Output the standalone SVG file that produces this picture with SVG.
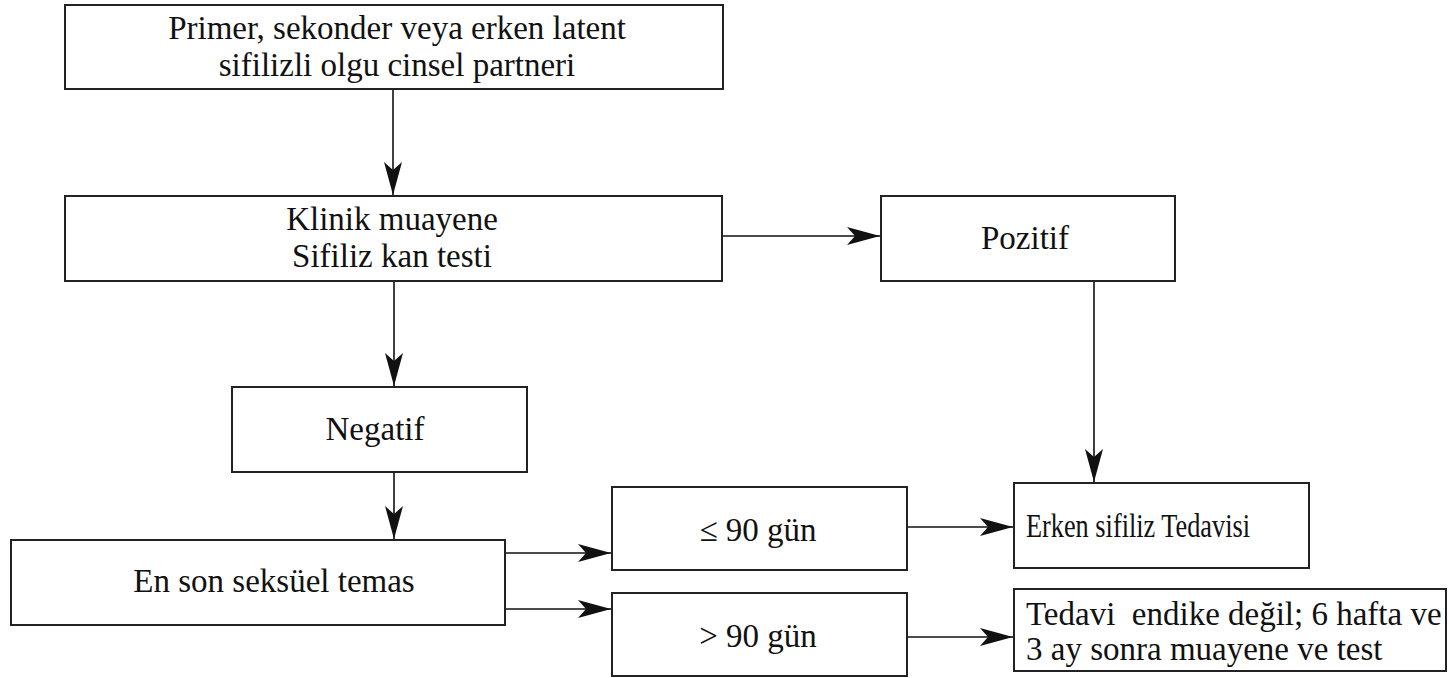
<svg xmlns="http://www.w3.org/2000/svg" width="1449" height="678" viewBox="0 0 1449 678">
<style>
.box{fill:#fff;stroke:#222;stroke-width:2}
.t{font-family:"Liberation Serif","Times New Roman",serif;font-size:33px;fill:#111}
.c{text-anchor:middle}
.conn{stroke:#111;stroke-width:1.6;fill:none;marker-end:url(#ah)}
</style>
<defs>
<marker id="ah" markerUnits="userSpaceOnUse" viewBox="-34 -10 34 20" markerWidth="34" markerHeight="20" refX="0" refY="0" orient="auto">
<path d="M0,0 L-33,-9 L-25,0 L-33,9 Z" fill="#111"/>
</marker>
</defs>
<rect width="1449" height="678" fill="#fff"/>
<g id="connectors">
<line class="conn" x1="393" y1="89" x2="393" y2="195"/>
<line class="conn" x1="722" y1="236" x2="880" y2="236"/>
<line class="conn" x1="1094" y1="281" x2="1094" y2="482"/>
<line class="conn" x1="394" y1="281" x2="394" y2="386"/>
<line class="conn" x1="394" y1="472" x2="394" y2="539"/>
<line class="conn" x1="505" y1="553" x2="611" y2="553"/>
<line class="conn" x1="505" y1="609" x2="611" y2="609"/>
<line class="conn" x1="907" y1="527" x2="1013" y2="527"/>
<line class="conn" x1="907" y1="637" x2="1013" y2="637"/>
</g>
<g id="n1">
<rect class="box" x="65" y="5" width="658" height="84"/>
<text class="t c" x="397" y="39">Primer, sekonder veya erken latent</text>
<text class="t c" x="397" y="76">sifilizli olgu cinsel partneri</text>
</g>
<g id="n2">
<rect class="box" x="65" y="196" width="657" height="85"/>
<text class="t c" x="392" y="230">Klinik muayene</text>
<text class="t c" x="392" y="267">Sifiliz kan testi</text>
</g>
<g id="n3">
<rect class="box" x="881" y="196" width="294" height="85"/>
<text class="t c" x="1025" y="249">Pozitif</text>
</g>
<g id="n4">
<rect class="box" x="232" y="387" width="295" height="85"/>
<text class="t c" x="375" y="440">Negatif</text>
</g>
<g id="n5">
<rect class="box" x="11" y="540" width="494" height="85"/>
<text class="t c" x="274" y="592">En son seksüel temas</text>
</g>
<g id="n6">
<rect class="box" x="612" y="487" width="295" height="83"/>
<text class="t c" x="758" y="541">≤ 90 gün</text>
</g>
<g id="n7">
<rect class="box" x="612" y="593" width="295" height="83"/>
<text class="t c" x="758" y="647">&gt; 90 gün</text>
</g>
<g id="n8">
<rect class="box" x="1014" y="483" width="295" height="85"/>
<text class="t" x="1026" y="537" textLength="224" lengthAdjust="spacingAndGlyphs">Erken sifiliz Tedavisi</text>
</g>
<g id="n9">
<rect class="box" x="1014" y="589" width="432" height="82"/>
<text class="t" x="1026" y="625" style="white-space:pre" xml:space="preserve">Tedavi  endike değil; 6 hafta ve</text>
<text class="t" x="1026" y="660">3 ay sonra muayene ve test</text>
</g>
</svg>
